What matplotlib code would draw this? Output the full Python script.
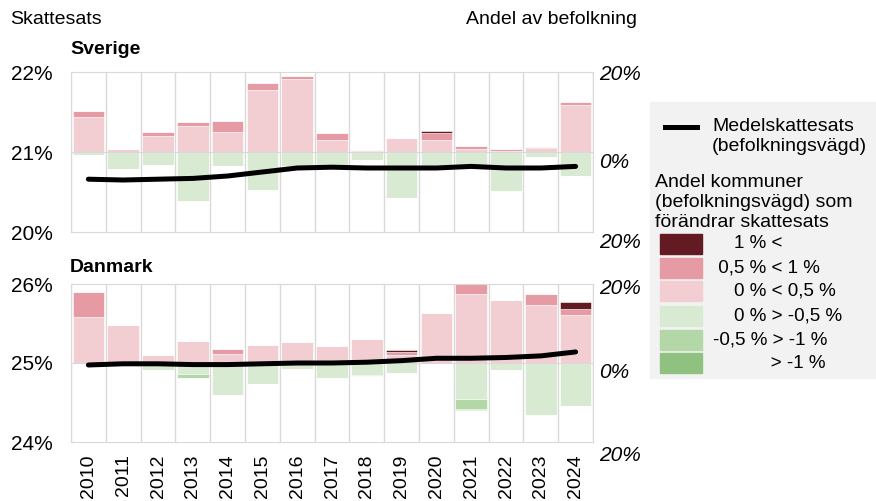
import matplotlib
matplotlib.use("Agg")
import numpy as np
from matplotlib import pyplot as plt
from matplotlib.patches import Rectangle
from matplotlib.lines import Line2D

plt.rcParams['font.family'] = ['Liberation Sans', 'DejaVu Sans']

years = [str(y) for y in range(2010, 2025)]

# Sverige: andel av befolkningen (%) per kategori
se_pos_small = [8.8, 0.8, 4.0, 6.5, 5.0, 15.5, 18.25, 3.0, 0.25, 3.5, 3.0, 0.8, 0.25, 0.9, 11.75]
se_pos_mid = [1.4, 0, 1.0, 1.0, 2.75, 1.75, 0.75, 1.67, 0.25, 0, 1.8, 0.7, 0.4, 0.25, 0.75]
se_pos_big = [0, 0, 0, 0, 0, 0, 0, 0, 0, 0, 0.4, 0, 0, 0, 0]
se_neg_small = [0.8, 4.3, 3.2, 12.25, 3.6, 9.5, 3.6, 3.2, 2.1, 11.4, 4.0, 4.2, 9.7, 1.2, 5.9]
se_neg_mid = [0, 0, 0, 0, 0, 0, 0, 0.3, 0, 0, 0, 0, 0, 0, 0]
se_neg_big = [0] * 15
se_rate = [20.66, 20.65, 20.66, 20.67, 20.70, 20.75, 20.80, 20.81, 20.80, 20.80,
           20.80, 20.82, 20.80, 20.80, 20.82]

# Danmark
dk_pos_small = [11.6, 9.6, 2.1, 5.6, 2.4, 4.6, 5.3, 4.2, 6.0, 2.0, 12.6, 17.5, 16.0, 14.75, 12.25]
dk_pos_mid = [6.4, 0, 0, 0, 1.1, 0, 0, 0, 0, 0.7, 0, 2.5, 0, 2.6, 1.4]
dk_pos_big = [0, 0, 0, 0, 0, 0, 0, 0, 0, 0.6, 0, 0, 0, 0, 1.7]
dk_neg_small = [0, 0, 1.7, 2.8, 8.1, 5.4, 1.6, 3.75, 3.1, 2.6, 0, 9.1, 1.75, 13.25, 10.9]
dk_neg_mid = [0, 0, 0, 0.9, 0, 0, 0, 0, 0.3, 0, 0, 2.5, 0, 0, 0]
dk_neg_big = [0, 0, 0, 0, 0, 0, 0, 0, 0, 0, 0, 0.2, 0, 0, 0]
dk_rate = [24.975, 24.99, 24.99, 24.98, 24.98, 24.99, 25.0, 25.0, 25.01, 25.03,
           25.06, 25.06, 25.07, 25.09, 25.14]

share_labels = ['20%', '0%', '20%']
colors = ['#631a22', '#e69ba4', '#f2ced3', '#d9ead3', '#b4d7a8', '#8fc280']
legend_labels = ['    1 % <', ' 0,5 % < 1 %', '    0 % < 0,5 %',
                 '    0 % > -0,5 %', '-0,5 % > -1 %', '           > -1 %']

W, H = 876, 501
fig = plt.figure(figsize=(W / 100, H / 100), dpi=100)
grid_c = '#d9d9d9'
fs = 14


def panel(rect, pos, neg, rate, rlim, rticks, rlabels, share_y, show_years):
    ax = fig.add_axes(rect)
    axl = ax.twinx()
    x = np.arange(len(years))
    ps, pm, pb = [np.array(v, float) for v in pos]
    ns, nm, nb = [np.array(v, float) for v in neg]
    kw = dict(width=0.91, edgecolor='white', linewidth=0.4, zorder=2)
    ax.bar(x, ps, color=colors[2], **kw)
    ax.bar(x, pm, bottom=ps, color=colors[1], **kw)
    ax.bar(x, pb, bottom=ps + pm, color=colors[0], **kw)
    ax.bar(x, -ns, color=colors[3], **kw)
    ax.bar(x, -nm, bottom=-ns, color=colors[4], **kw)
    ax.bar(x, -nb, bottom=-ns - nm, color=colors[5], **kw)
    ax.axhline(0, color=grid_c, lw=0.8, zorder=3)
    for b in np.arange(-0.5, len(years), 1.0):
        ax.axvline(b, color=grid_c, lw=1, zorder=1)
    ax.set_xlim(-0.5, len(years) - 0.5)
    ax.set_ylim(-20, 20)
    ax.set_yticks([])
    # right-hand share labels (placed slightly below the ticks, as in the original)
    for yv, lab in zip(share_y, share_labels):
        ax.text(1.012, yv, lab, transform=ax.get_yaxis_transform(), fontsize=fs + 1,
                style='italic', va='center', ha='left', clip_on=False)
    ax.set_xticks(x)
    if show_years:
        ax.set_xticklabels(years, rotation=90, fontsize=fs)
        ax.tick_params(axis='x', length=0, pad=9)
    else:
        ax.set_xticklabels([])
        ax.tick_params(axis='x', length=0)
    for s in ax.spines.values():
        s.set_color(grid_c)

    axl.plot(x, rate, color='black', lw=3.6, solid_capstyle='round',
             solid_joinstyle='round', zorder=5)
    axl.set_ylim(*rlim)
    axl.set_yticks(rticks)
    axl.set_yticklabels(rlabels, fontsize=fs + 1)
    axl.yaxis.tick_left()
    axl.tick_params(axis='y', length=0, pad=13, labelleft=True, labelright=False)
    for s in axl.spines.values():
        s.set_visible(False)
    return ax


panel([71 / W, 1 - 232 / H, 522 / W, 160 / H],
      (se_pos_small, se_pos_mid, se_pos_big), (se_neg_small, se_neg_mid, se_neg_big),
      se_rate, (20, 22), [20, 21, 22], ['20%', '21%', '22%'],
      [19.25, -2.5, -22.75], False)
panel([71 / W, 1 - 442 / H, 522 / W, 158 / H],
      (dk_pos_small, dk_pos_mid, dk_pos_big), (dk_neg_small, dk_neg_mid, dk_neg_big),
      dk_rate, (24, 26), [24, 25, 26], ['24%', '25%', '26%'],
      [18.8, -2.3, -23.5], True)

fig.text(10 / W, 1 - 20 / H, 'Skattesats', fontsize=fs, va='center')
fig.text(466 / W, 1 - 20 / H, 'Andel av befolkning', fontsize=fs, va='center')
fig.text(70 / W, 1 - 50 / H, 'Sverige', fontsize=fs, weight='bold', va='center')
fig.text(70 / W, 1 - 267 / H, 'Danmark', fontsize=fs, weight='bold', va='center')

# legend box
fig.patches.append(Rectangle((650 / W, 1 - 378 / H), 226 / W, 276 / H,
                             transform=fig.transFigure, color='#f2f2f2', zorder=0))
fig.lines.append(Line2D([665 / W, 697 / W], [1 - 127 / H, 1 - 127 / H],
                        transform=fig.transFigure, color='black', lw=3.6))
fig.text(712 / W, 1 - 136.5 / H, 'Medelskattesats\n(befolkningsvägd)',
         fontsize=fs, va='center', linespacing=1.2)
fig.text(655 / W, 1 - 202.5 / H, 'Andel kommuner\n(befolkningsvägd) som\nförändrar skattesats',
         fontsize=fs, va='center', linespacing=1.2)
tops = [234, 258, 281, 306, 330, 353]
for top, c, lab in zip(tops, colors, legend_labels):
    fig.patches.append(Rectangle((660 / W, 1 - (top + 20) / H), 42 / W, 20 / H,
                                 transform=fig.transFigure, color=c, zorder=1))
    fig.text(713 / W, 1 - (top + 10) / H, lab, fontsize=fs - 0.5, va='center')

fig.savefig('out.png', dpi=100)
